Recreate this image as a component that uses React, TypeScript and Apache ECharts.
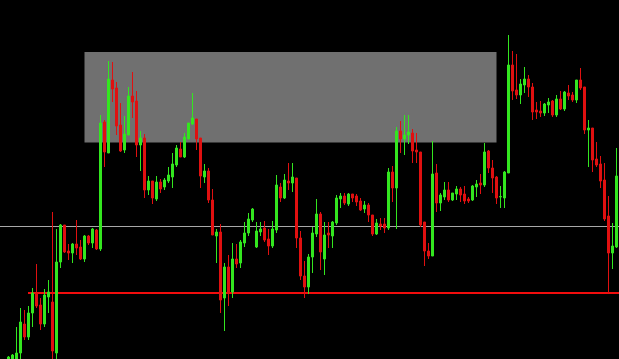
import React, { useEffect, useRef } from 'react';
import * as echarts from 'echarts';

// Values (price units = pixels above the bottom edge)
const opens: (number | null)[] = [
  null, null, -10, -8, -5, 6, 35, 22, 46, 66, 54, 35, 62, 57, 6, 97, 134, 108, 106, 115,
  112, 100, 123, 116, 129, 110, 237, 206, 279, 271, 234, 209, 224, 263, 258, 214, 221, 169, 178, 160,
  177, 172, 178, 182, 194, 210, 202, 220, 235, 240, 221, 182, 188, 159, 123, 127, 61, 92, 67, 100,
  96, 116, 126, 139, 112, 127, 131, 120, 113, 129, 172, 161, 178, 176, 181, 121, 83, 72, 102, 125,
  145, 100, 126, 123, 136, 160, 163, 155, 165, 163, 158, 150, 154, 144, 125, 135, 135, 131, 187, 171,
  228, 220, 224, 226, 209, 207, 137, 108, 103, 186, 156, 162, 169, 159, 165, 170, 165, 160, 159, 172,
  176, 174, 208, 191, 182, 162, 161, 186, 294, 269, 264, 274, 280, 272, 249, 248, 246, 254, 258, 244,
  260, 250, 266, 264, 259, 279, 272, 229, 231, 200, 195, 179, 143, 106, 112,
];
const closes: (number | null)[] = [
  null, null, 2, 4, 6, 37, 22, 46, 66, 53, 35, 64, 67, 8, 97, 134, 107, 106, 115, 111,
  100, 123, 116, 130, 110, 236, 207, 280, 270, 233, 208, 225, 263, 257, 214, 221, 169, 178, 161, 177,
  170, 179, 184, 195, 211, 202, 222, 236, 241, 220, 183, 188, 159, 124, 127, 59, 92, 66, 100, 95,
  117, 126, 140, 150, 128, 130, 119, 113, 130, 174, 161, 179, 176, 182, 121, 83, 72, 102, 126, 145,
  107, 124, 124, 137, 161, 163, 156, 165, 161, 157, 149, 154, 144, 125, 136, 133, 131, 187, 171, 228,
  220, 224, 227, 208, 207, 134, 108, 103, 185, 156, 164, 169, 159, 166, 170, 164, 158, 158, 173, 175,
  174, 207, 191, 181, 161, 162.5, 187, 294, 268, 264, 275, 280, 272, 247, 247, 246, 255, 257, 244, 260,
  250, 267, 263, 259, 279, 271, 229, 231, 199, 194, 178, 140, 106, 113, 183,
];
const lows: (number | null)[] = [
  null, null, -12, -10, -8, -2, 19, 19, 32, 51, 29, 32, 46, -2, -3, 91, 106, 99, 96, 104,
  99, 97, 114, 111, 109, 108, 192, 206, 257, 224, 207, 206, 224, 241, 202, 188, 161, 164, 155, 158,
  166, 169, 176, 171, 192, 202, 201, 220, 234, 209, 171, 176, 156, 124, 96, 46, 28, 53, 61, 91,
  91, 112, 123, 137, 111, 123, 117, 104, 111, 126, 157, 160, 169, 167, 111, 79, 61, 65, 86, 122,
  89, 84, 111, 111, 134, 151, 154, 153, 157, 153, 148, 146, 137, 123, 124, 129, 126, 129, 157, 130,
  206, 204, 215, 196, 196, 132, 93, 100, 103, 147, 148, 159, 157, 158, 159, 157, 155, 156, 158, 162,
  165, 172, 186, 166, 155, 151, 151, 186, 259, 260, 255, 266, 262, 239, 240, 242, 243, 246, 242, 242,
  249, 248, 259, 257, 256, 269, 225, 192, 187, 192, 171, 138, 66, 90, 111,
];
const highs: (number | null)[] = [
  null, null, 3, 5, 32, 51, 49, 53, 71, 95, 61, 70, 79, 147, 130, 135, 134, 115, 116, 139,
  119, 124, 124, 131, 130, 244, 239, 298, 297, 277, 256, 243, 272, 287, 268, 228, 225, 183, 178, 183,
  180, 181, 192, 206, 214, 217, 226, 236, 266, 240, 221, 195, 191, 170, 130, 135, 96, 104, 116, 115,
  119, 137, 146, 151, 137, 137, 138, 130, 138, 184, 176, 185, 196, 196, 181, 128, 98, 105, 132, 160,
  147, 137, 137, 138, 164, 166, 166, 166, 165, 165, 161, 158, 156, 144, 140, 141, 141, 191, 193, 232,
  238, 244, 244, 230, 226, 207, 137, 116, 218, 195, 166, 177, 177, 166, 173, 172, 173, 162, 174, 179,
  185, 216, 209, 199, 183, 173, 188, 324, 308, 305, 280, 292, 284, 276, 257, 258, 256, 261, 259, 264,
  268, 268, 274, 267, 279, 291, 272, 239, 231, 217, 203, 196, 163, 136, 211,
];
const categoryCount = 156;
const categories = Array.from({ length: categoryCount }, (_, i) => 'bar' + (i + 1));

// Reference levels
const supportLevel = 66;
const supportSpan = [0, 1];
const middleLevel = 132.5;
const zoneTop = 307;
const zoneBottom = 216.5;
const zoneStart = categories[21];
const zoneEnd = categories[124];

const GREEN = '#33e61f';
const RED = '#e01010';

export default function App() {
  const ref = useRef<HTMLDivElement>(null);
  useEffect(() => {
    document.body.style.margin = '0';
    document.body.style.background = '#000';
    const chart = echarts.init(ref.current!, null, { renderer: 'svg' });
    const data = opens.map((o, i) =>
      o === null ? ['-', '-', '-', '-'] : [o, closes[i], lows[i], highs[i]]
    );
    chart.setOption({
      animation: false,
      backgroundColor: '#000000',
      grid: [
        {
          left: -1.5,
          width: 624,
          top: 0,
          height: 359,
          outerBoundsMode: 'none',
          containLabel: false,
        },
        {
          left: 28,
          width: 595,
          top: 0,
          height: 359,
          outerBoundsMode: 'none',
          containLabel: false,
        },
      ],
      xAxis: [
        {
          type: 'category',
          gridIndex: 0,
          data: categories,
          boundaryGap: true,
          show: false,
        },
        {
          type: 'value',
          gridIndex: 1,
          min: 0,
          max: 1,
          show: false,
          splitLine: { show: false },
        },
      ],
      yAxis: [
        {
          type: 'value',
          gridIndex: 0,
          min: 0,
          max: 359,
          show: false,
          splitLine: { show: false },
        },
        {
          type: 'value',
          gridIndex: 1,
          min: 0,
          max: 359,
          show: false,
          splitLine: { show: false },
        },
      ],
      series: [
        {
          type: 'line',
          name: 'support',
          xAxisIndex: 1,
          yAxisIndex: 1,
          z: 1,
          silent: true,
          clip: false,
          showSymbol: false,
          symbol: 'none',
          lineStyle: { color: '#f20d0d', width: 2 },
          data: supportSpan.map((x) => [x, supportLevel]),
        },
        {
          type: 'candlestick',
          xAxisIndex: 0,
          yAxisIndex: 0,
          data,
          z: 2,
          barWidth: 2,
          silent: true,
          itemStyle: {
            color: GREEN,
            color0: RED,
            borderColor: GREEN,
            borderColor0: RED,
            borderWidth: 1,
          },
          markArea: {
            silent: true,
            z: 1,
            itemStyle: { color: '#707070' },
            data: [
              [
                { coord: [zoneStart, zoneTop] },
                { coord: [zoneEnd, zoneBottom] },
              ],
            ],
          },
          markLine: {
            silent: true,
            z: 1,
            symbol: ['none', 'none'],
            label: { show: false },
            data: [
              { yAxis: middleLevel, lineStyle: { color: '#a8a8a8', width: 1, type: 'solid' } },
            ],
          },
        },
      ],
    });
    return () => chart.dispose();
  }, []);
  return <div ref={ref} style={{ width: 619, height: 359, background: '#000' }} />;
}
